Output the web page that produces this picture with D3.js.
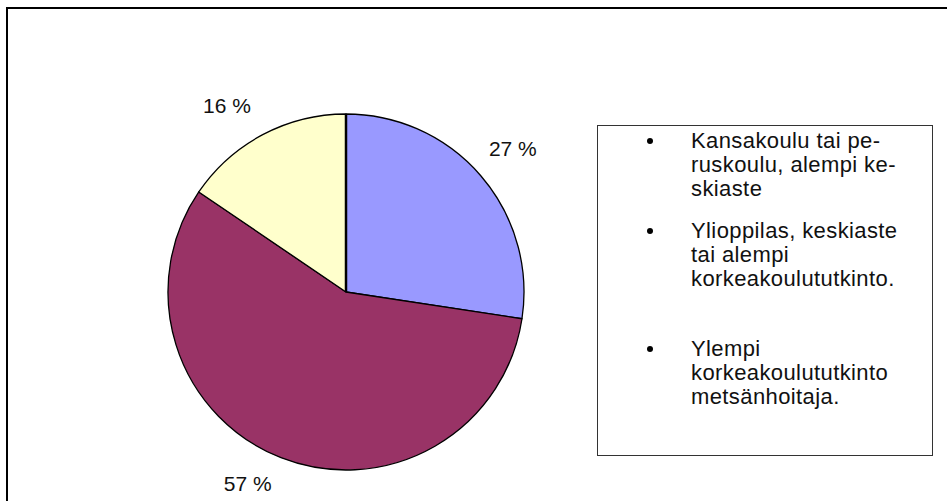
<!DOCTYPE html>
<html>
<head>
<meta charset="utf-8">
<script src="https://cdn.jsdelivr.net/npm/d3@7"></script>
<style>
  body { margin: 0; background: #fff; }
  svg { display: block; font-family: Arial, "Liberation Sans", sans-serif; }
</style>
</head>
<body>
<div id="chart"></div>
<script>
const width = 947;
const height = 501;

// data
const categories = [
  "Kansakoulu tai peruskoulu, alempi keskiaste",
  "Ylioppilas, keskiaste tai alempi korkeakoulututkinto.",
  "Ylempi korkeakoulututkinto metsänhoitaja."
];
const values = [27.4, 57.1, 15.5];
const colors = ["#9999FF", "#993366", "#FFFFCC"];
const legendLines = [
  ["Kansakoulu tai pe-", "ruskoulu, alempi ke-", "skiaste"],
  ["Ylioppilas, keskiaste", "tai alempi", "korkeakoulututkinto."],
  ["Ylempi", "korkeakoulututkinto", "metsänhoitaja."]
];

const svg = d3
  .select("#chart")
  .append("svg")
  .attr("width", width)
  .attr("height", height);

// outer chart border (runs off the right/bottom edge)
svg
  .append("rect")
  .attr("x", 7)
  .attr("y", 8)
  .attr("width", width + 10)
  .attr("height", height + 10)
  .attr("fill", "none")
  .attr("stroke", "#000")
  .attr("stroke-width", 2);

const cx = 346;
const cy = 292;
const r = 178;

const pie = d3.pie().sort(null).value((d) => d);
const arcs = pie(values);
const arc = d3.arc().innerRadius(0).outerRadius(r);
const labelArc = d3.arc().innerRadius(220).outerRadius(220);
// small nudges so labels sit where the original placed them
const labelNudge = [[0, 0], [-18, -13], [-16, 8]];

const g = svg.append("g").attr("transform", `translate(${cx},${cy})`);

g.selectAll("path")
  .data(arcs)
  .join("path")
  .attr("d", arc)
  .attr("fill", (d, i) => colors[i])
  .attr("stroke", "#000")
  .attr("stroke-width", 1.3)
  .attr("stroke-linejoin", "round");

// thick seam at 12 o'clock
g.append("line")
  .attr("x1", 0)
  .attr("y1", 0)
  .attr("x2", 0)
  .attr("y2", -r)
  .attr("stroke", "#000")
  .attr("stroke-width", 2.5);

g.selectAll("text.lbl")
  .data(arcs)
  .join("text")
  .attr("class", "lbl")
  .attr("transform", (d, i) => {
    const c = labelArc.centroid(d);
    return `translate(${c[0] + labelNudge[i][0]},${c[1] + labelNudge[i][1]})`;
  })
  .attr("text-anchor", "middle")
  .attr("dominant-baseline", "central")
  .attr("font-size", 21)
  .attr("fill", "#111")
  .text((d) => `${Math.round(d.data)} %`);

// legend
const legend = svg.append("g");
legend
  .append("rect")
  .attr("x", 597.5)
  .attr("y", 125.5)
  .attr("width", 335)
  .attr("height", 330)
  .attr("fill", "#fff")
  .attr("stroke", "#333")
  .attr("stroke-width", 1);

const itemTop = [140, 230, 348];
legendLines.forEach((lines, i) => {
  legend
    .append("circle")
    .attr("cx", 650)
    .attr("cy", itemTop[i] + 1)
    .attr("r", 3)
    .attr("fill", "#000");
  lines.forEach((t, j) => {
    legend
      .append("text")
      .attr("x", 691)
      .attr("y", itemTop[i] + j * 24)
      .attr("dominant-baseline", "central")
      .attr("font-size", 22)
      .attr("letter-spacing", 0.4)
      .attr("fill", "#111")
      .text(t);
  });
});
</script>
</body>
</html>
